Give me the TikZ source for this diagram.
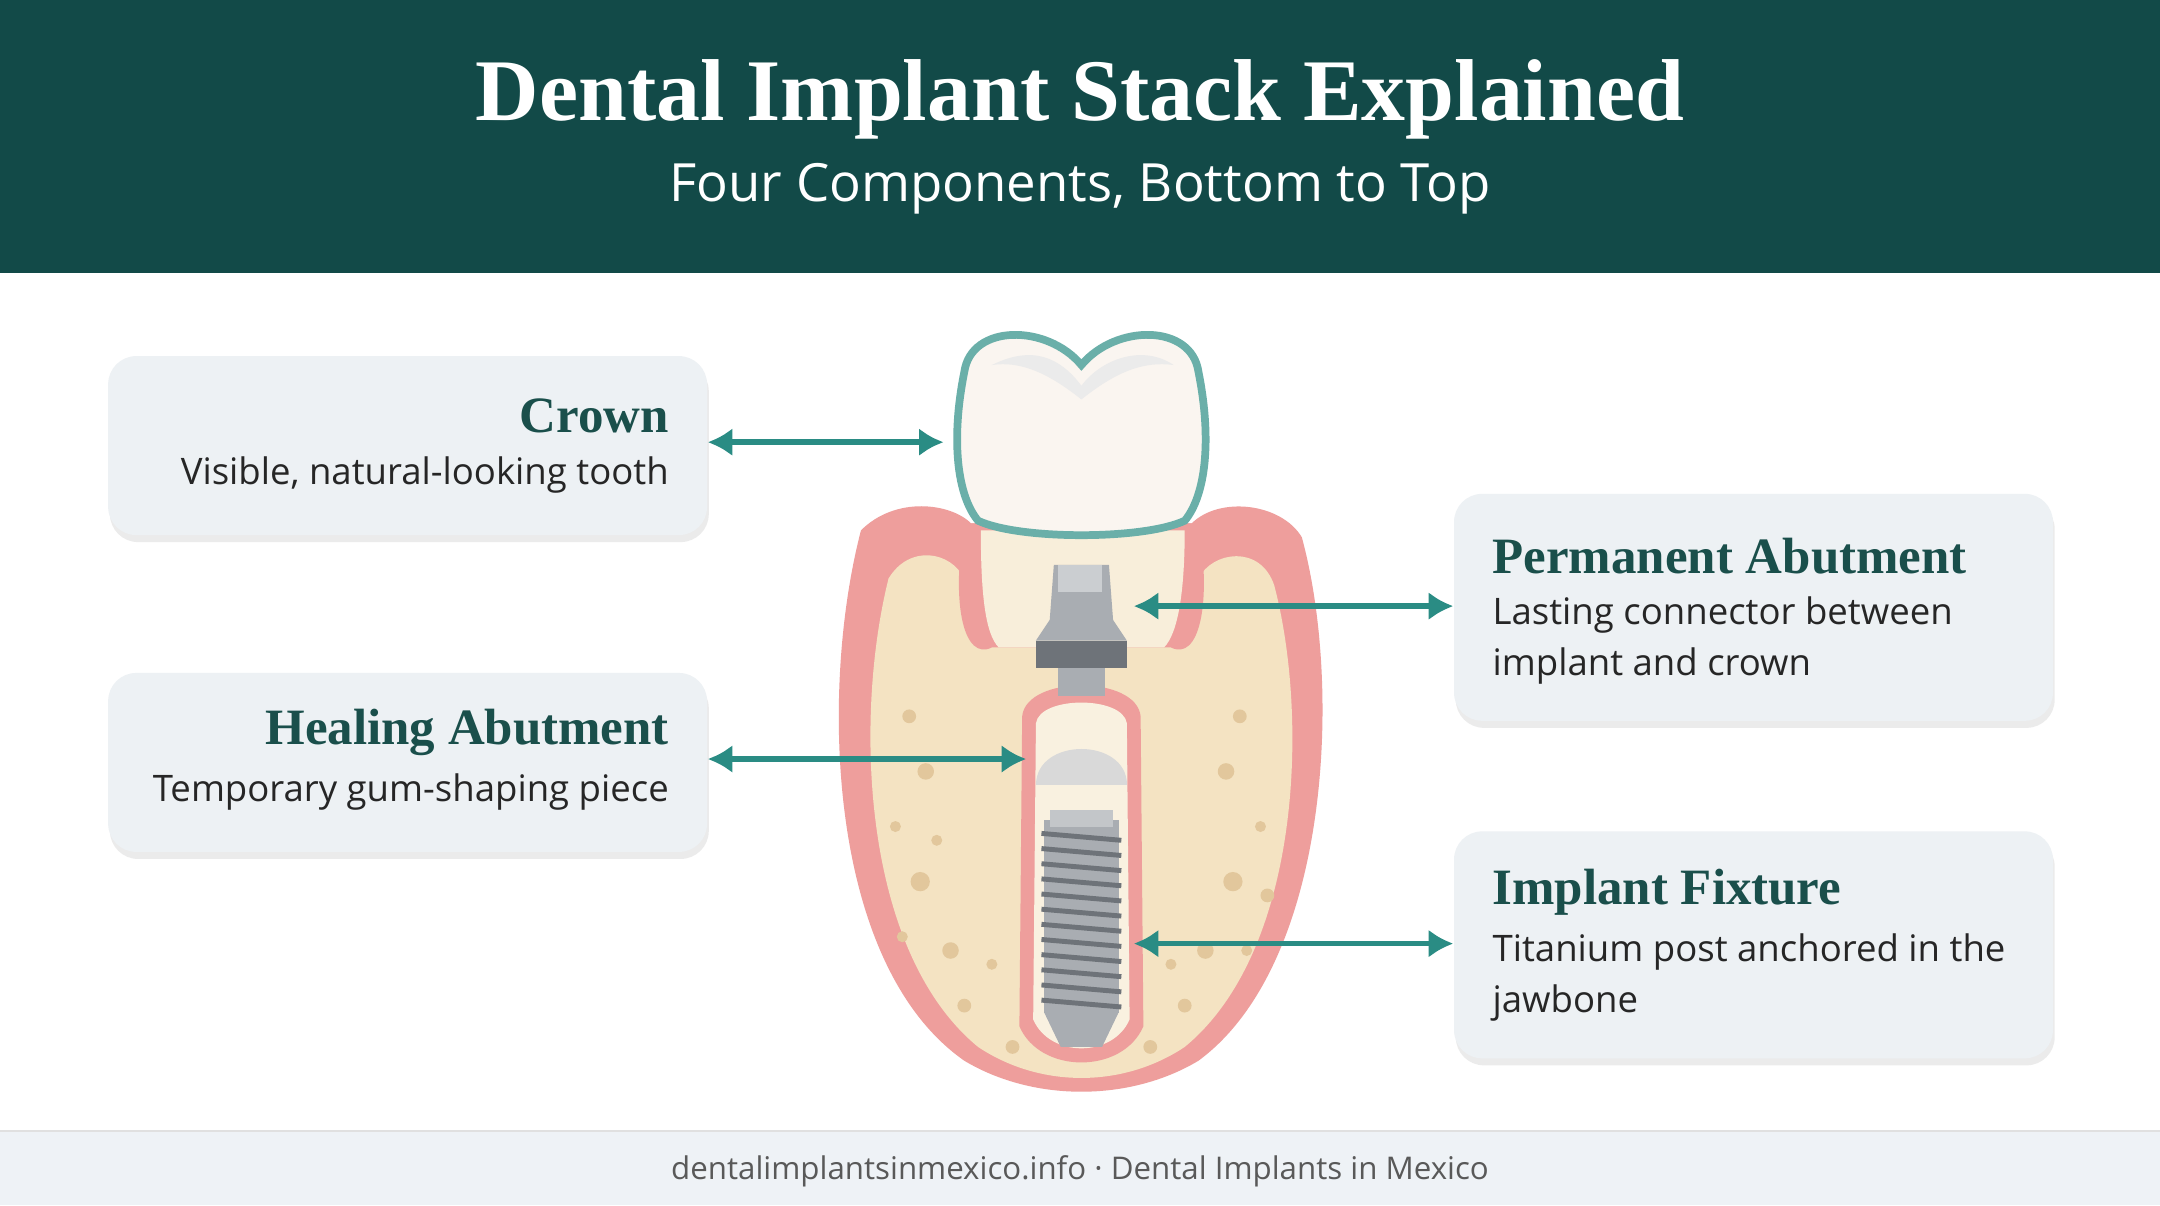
\documentclass[tikz,border=0pt]{standalone}
\usepackage{fontspec}
\setmainfont{Liberation Serif}
\setsansfont{Open Sans}
\usetikzlibrary{positioning, arrows.meta, shadows, calc}
\definecolor{head}{HTML}{124A48}
\definecolor{teal}{HTML}{2A8C84}
\definecolor{boxbg}{HTML}{EDF1F4}
\definecolor{foot}{HTML}{EEF2F6}
\definecolor{gum}{HTML}{EE9E9C}
\definecolor{gumdark}{HTML}{D9787A}
\definecolor{bone}{HTML}{F4E3C2}
\definecolor{pore}{HTML}{E2C79C}
\definecolor{metal}{HTML}{A9ADB2}
\definecolor{metaldark}{HTML}{6E7379}
\definecolor{ttl}{HTML}{1A4F4B}
\begin{document}
\begin{tikzpicture}[x=0.013776cm, y=-0.013776cm,
    box/.style={fill=boxbg, rounded corners=8pt, minimum width=5.99cm,
      minimum height=#1, inner sep=0, anchor=north west,
      drop shadow={shadow xshift=0.5pt, shadow yshift=-2pt, fill=black!15, opacity=0.5}},
    btitle/.style={font=\bfseries\fontsize{14.5}{18}\selectfont, text=ttl, inner sep=0},
    btext/.style={font=\sffamily\fontsize{10.4}{14.5}\selectfont, text=black!85, inner sep=0, align=left},
    link/.style={draw=teal, line width=1.6pt, {Latex[length=7pt,width=8pt]}-{Latex[length=7pt,width=8pt]}}
  ]
  \useasboundingbox (0,0) rectangle (1568,875);
  \fill[white] (0,0) rectangle (1568,875);

  % header
  \fill[head] (0,0) rectangle (1568,198);
  \node[font=\bfseries\fontsize{25}{30}\selectfont, text=white] (title) at (784,72) {Dental Implant Stack Explained};
  \node[font=\sffamily\fontsize{15}{18}\selectfont, text=white] (subtitle) at (784,137) {Four Components, Bottom to Top};

  % footer
  \fill[foot] (0,821) rectangle (1568,875);
  \draw[black!12] (0,821) -- (1568,821);
  \node[font=\sffamily\fontsize{8.9}{12}\selectfont, text=black!65] (footer) at (784,850)
    {dentalimplantsinmexico.info · Dental Implants in Mexico};

  % jaw: bone and gum
  \fill[gum] (625,385) .. controls (650,360) and (690,365) .. (705,380)
    -- (865,380) .. controls (885,360) and (930,365) .. (945,390)
    .. controls (975,500) and (965,700) .. (870,770)
    .. controls (820,800) and (750,800) .. (700,770)
    .. controls (600,700) and (595,500) .. (625,385) -- cycle;
  \fill[bone] (645,420) .. controls (660,395) and (690,400) .. (700,420)
    -- (870,420) .. controls (880,400) and (915,395) .. (925,425)
    .. controls (950,520) and (945,690) .. (860,760)
    .. controls (815,790) and (755,790) .. (710,760)
    .. controls (625,690) and (620,520) .. (645,420) -- cycle;
  \foreach \px/\py/\r in {660/520/5,672/560/6,650/600/4,668/640/7,690/690/6,700/730/5,
      900/520/5,890/560/6,915/600/4,895/640/7,875/690/6,860/730/5,
      735/760/5,835/760/5,680/610/4,905/690/4,720/700/4,850/700/4,655/680/4,920/650/5}
    \fill[pore] (\px,\py) circle (\r);
  % gum collar inside
  \fill[gum] (700,380) .. controls (690,440) and (700,480) .. (720,470)
    -- (850,470) .. controls (870,480) and (880,440) .. (870,380) -- cycle;
  \fill[bone!60!white] (712,385) -- (860,385) .. controls (860,430) and (855,460) .. (845,470)
    -- (725,470) .. controls (715,460) and (712,430) .. (712,385) -- cycle;
  % socket
  \fill[gum] (742,520) .. controls (745,490) and (825,490) .. (828,520)
    -- (830,745) .. controls (815,780) and (755,780) .. (740,745) -- cycle;
  \fill[bone!50!white] (752,525) .. controls (755,505) and (815,505) .. (818,525)
    -- (820,740) .. controls (808,768) and (762,768) .. (750,740) -- cycle;

  % implant fixture
  \fill[metal] (758,595) rectangle (812,735);
  \fill[metal] (758,735) -- (812,735) -- (800,760) -- (770,760) -- cycle;
  \foreach \k in {0,...,11}
    \draw[metaldark, line width=1.4pt] (756,{605+11*\k}) -- (814,{610+11*\k});
  \fill[metal!70!white] (762,588) rectangle (808,600);
  \coordinate (fixture) at (823,685);

  % healing abutment
  \fill[white!85!black] (752,570) .. controls (752,535) and (818,535) .. (818,570) -- cycle;
  \coordinate (healing) at (745,551);

  % permanent abutment
  \fill[metal] (765,410) -- (805,410) -- (808,450) -- (818,465) -- (752,465) -- (762,450) -- cycle;
  \fill[metal!60!white] (768,410) rectangle (800,430);
  \fill[metaldark] (752,465) rectangle (818,485);
  \fill[metal] (768,485) rectangle (802,505);
  \coordinate (permanent) at (823,440);

  % crown
  \filldraw[fill=white!92!brown, draw=teal!70!white, line width=2.2pt]
    (700,270) .. controls (705,235) and (760,235) .. (785,265)
    .. controls (810,235) and (865,235) .. (870,270)
    .. controls (880,320) and (875,360) .. (860,378)
    .. controls (830,392) and (740,392) .. (710,378)
    .. controls (695,360) and (690,320) .. (700,270) -- cycle;
  \fill[black!8] (720,265) .. controls (750,250) and (770,260) .. (785,280)
    .. controls (800,260) and (830,250) .. (852,265)
    .. controls (830,262) and (810,270) .. (785,290)
    .. controls (760,270) and (740,262) .. (720,265) -- cycle;
  \coordinate (crowntip) at (685,321);

  % boxes
  \node[box=1.79cm] (crown) at (78,258) {};
  \node[box=1.79cm] (heal) at (78,488) {};
  \node[box=2.27cm] (perm) at (1055,358) {};
  \node[box=2.27cm] (fix) at (1055,603) {};

  \node[btitle, anchor=east] (crownT) at (486,302) {Crown};
  \node[btext, anchor=east] (crownB) at (486,345) {Visible, natural-looking tooth};
  \node[btitle, anchor=east] (healT) at (486,532) {Healing Abutment};
  \node[btext, anchor=east] (healB) at (486,575) {Temporary gum-shaping piece};
  \node[btitle, anchor=west] (permT) at (1083,404) {Permanent Abutment};
  \node[btext, anchor=north west] (permB) at (1083,433) {Lasting connector between\\implant and crown};
  \node[btitle, anchor=west] (fixT) at (1083,648) {Implant Fixture};
  \node[btext, anchor=north west] (fixB) at (1083,677) {Titanium post anchored in the\\jawbone};

  % connectors
  \draw[link] (crown.east |- crowntip) -- (crowntip);
  \draw[link] (heal.east |- healing) -- (healing);
  \draw[link] (perm.west |- permanent) -- (permanent);
  \draw[link] (fix.west |- fixture) -- (fixture);
\end{tikzpicture}
\end{document}
